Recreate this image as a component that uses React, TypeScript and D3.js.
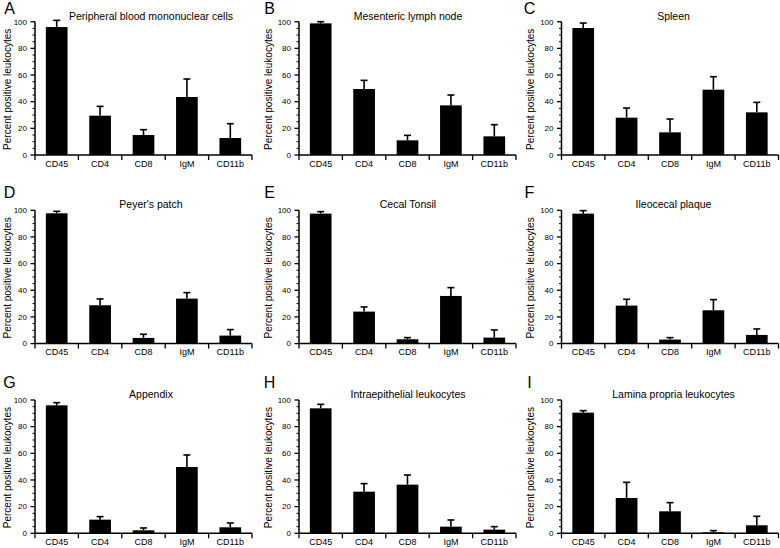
import React from "react";
import * as d3 from "d3";

const categories = ["CD45", "CD4", "CD8", "IgM", "CD11b"];
const panelLetters = ["A", "B", "C", "D", "E", "F", "G", "H", "I"];
const panelTitles = [
  "Peripheral blood mononuclear cells",
  "Mesenteric lymph node",
  "Spleen",
  "Peyer's patch",
  "Cecal Tonsil",
  "Ileocecal plaque",
  "Appendix",
  "Intraepithelial leukocytes",
  "Lamina propria leukocytes",
];

const meansA = [96, 29.5, 15, 43.5, 12.75];
const errA = [5, 7, 4, 13.5, 10.75];
const meansB = [98.75, 49.5, 11, 37.25, 14];
const errB = [1.25, 6.5, 3.75, 7.75, 8.75];
const meansC = [95.25, 28, 17, 49, 32];
const errC = [3.75, 7.25, 10, 9.75, 7.5];
const meansD = [97.75, 28.75, 4.25, 33.75, 6];
const errD = [1.5, 4.75, 2.75, 4.5, 4.5];
const meansE = [97.5, 24, 3.25, 35.75, 4.5];
const errE = [1.5, 3.5, 1.25, 6.25, 5.75];
const meansF = [97.5, 28.5, 3, 25, 6.5];
const errF = [2.25, 4.75, 1.5, 8, 4.5];
const meansG = [96, 10.25, 2.25, 49.75, 4.5];
const errG = [2, 2.25, 1.75, 9, 3.25];
const meansH = [93.75, 31.25, 36.5, 5, 2.75];
const errH = [3, 6, 7.25, 5, 2.25];
const meansI = [90.5, 26.5, 16.5, 0.75, 6];
const errI = [1.5, 11.75, 6.5, 1.25, 6.75];

const allMeans = [meansA, meansB, meansC, meansD, meansE, meansF, meansG, meansH, meansI];
const allErrors = [errA, errB, errC, errD, errE, errF, errG, errH, errI];

const yMajorTicks = [0, 20, 40, 60, 80, 100];
const yMinorTicks = [5, 10, 15, 25, 30, 35, 45, 50, 55, 65, 70, 75, 85, 90, 95];
const yAxisTitle = "Percent positive leukocytes";

const FONT = "'Liberation Sans', Arial, Helvetica, sans-serif";

const colAxisX = [35, 299, 561.5];
const colTitleOffset = [116, 109, 112];
const colYTitleX = [7.5, 268.5, 530.5];
const colLetterX = [9.5, 269.5, 529.5];
const rowTop = [21.7, 210.3, 400];
const rowLetterBaseline = [13.5, 198, 388.3];
const plotW = 217;
const plotH = 133.3;

function Panel({ idx }: { idx: number }) {
  const col = idx % 3;
  const row = Math.floor(idx / 3);
  const x0 = colAxisX[col];
  const yTop = rowTop[row];
  const yBottom = yTop + plotH;
  const x = d3.scaleBand<string>().domain(categories).range([x0, x0 + plotW]).padding(0);
  const y = d3.scaleLinear().domain([0, 100]).range([yBottom, yTop]);
  const bw = x.bandwidth();
  const barW = bw * 0.5;
  const capW = 7;
  const means = allMeans[idx];
  const errs = allErrors[idx];
  const boundaries = categories.map((c) => x(c) as number).concat([x0 + plotW]);

  return (
    <g>
      <text x={colLetterX[col]} y={rowLetterBaseline[row]} fontSize={16} textAnchor="middle" fontFamily={FONT} fill="#000">
        {panelLetters[idx]}
      </text>
      <text x={x0 + colTitleOffset[col]} y={yTop - 2} fontSize={10.5} textAnchor="middle" fontFamily={FONT} fill="#000">
        {panelTitles[idx]}
      </text>
      <text
        transform={`translate(${colYTitleX[col] + 3.6},${(yTop + yBottom) / 2 + 1}) rotate(-90)`}
        fontSize={10}
        textAnchor="middle"
        fontFamily={FONT}
        fill="#000"
      >
        {yAxisTitle}
      </text>
      {categories.map((c, i) => {
        const cx = (x(c) as number) + bw / 2;
        const top = y(means[i]);
        const etop = y(means[i] + errs[i]);
        return (
          <g key={c}>
            <rect x={cx - barW / 2} y={top} width={barW} height={yBottom - top} fill="#000" />
            <line x1={cx} x2={cx} y1={top} y2={etop} stroke="#000" strokeWidth={1.6} />
            <line x1={cx - capW / 2} x2={cx + capW / 2} y1={etop} y2={etop} stroke="#000" strokeWidth={1.6} />
          </g>
        );
      })}
      <line x1={x0} x2={x0} y1={yBottom} y2={yTop} stroke="#000" strokeWidth={1.5} />
      {yMajorTicks.map((t) => (
        <g key={t}>
          <line x1={x0 - 4.5} x2={x0} y1={y(t)} y2={y(t)} stroke="#000" strokeWidth={1.3} />
          <text x={x0 - 8} y={y(t)} dy="0.35em" fontSize={8} textAnchor="end" fontFamily={FONT} fill="#000">
            {t}
          </text>
        </g>
      ))}
      {yMinorTicks.map((t) => (
        <line key={t} x1={x0 - 2.5} x2={x0} y1={y(t)} y2={y(t)} stroke="#000" strokeWidth={1} />
      ))}
      <line x1={x0} x2={x0 + plotW} y1={yBottom} y2={yBottom} stroke="#000" strokeWidth={1.5} />
      {boundaries.map((bx, i) => (
        <line key={i} x1={bx} x2={bx} y1={yBottom} y2={yBottom + 5} stroke="#000" strokeWidth={1.3} />
      ))}
      {categories.map((c) => (
        <text
          key={c}
          x={(x(c) as number) + bw / 2}
          y={yBottom + 11.5}
          fontSize={9}
          textAnchor="middle"
          fontFamily={FONT}
          fill="#000"
        >
          {c}
        </text>
      ))}
    </g>
  );
}

export default function App() {
  return (
    <div style={{ position: "absolute", left: 0, top: 0 }}>
      <svg width={780} height={548} viewBox="0 0 780 548" style={{ display: "block", background: "#fff" }}>
        <rect width={780} height={548} fill="#fff" />
        {panelLetters.map((_, i) => (
          <Panel key={i} idx={i} />
        ))}
      </svg>
    </div>
  );
}
